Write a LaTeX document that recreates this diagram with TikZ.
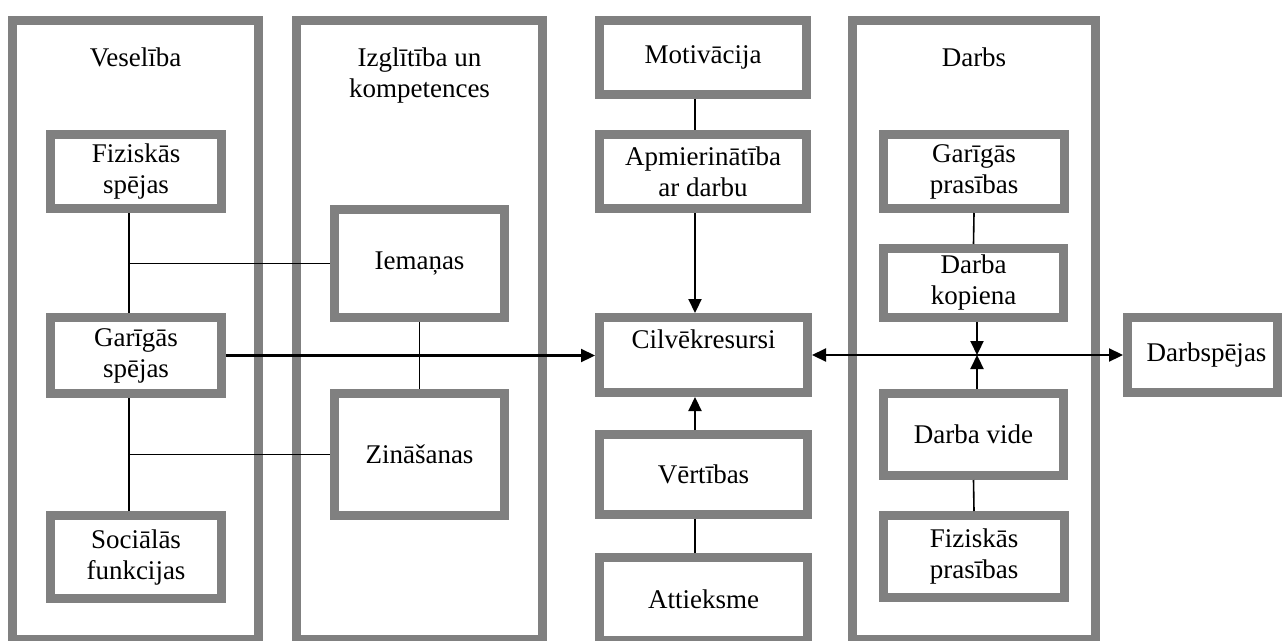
\documentclass[tikz,border=0pt]{standalone}
\usepackage{fontspec}
\setmainfont{Liberation Serif}
\usetikzlibrary{arrows.meta}
\definecolor{boxgray}{RGB}{128,128,128}
\begin{document}
\begin{tikzpicture}[x=1pt,y=-1pt,
  gbox/.style={draw=boxgray, line width=9pt, inner sep=0pt, align=center, font=\fontsize{27pt}{31pt}\selectfont},
  lbl/.style={inner sep=0pt, align=center, font=\fontsize{27pt}{31pt}\selectfont},
  conn/.style={line width=1.6pt},
  arr/.style={line width=2.2pt, -{Triangle[length=14pt,width=13pt]}},
  darr/.style={line width=2.2pt, {Triangle[length=14pt,width=13pt]}-{Triangle[length=14pt,width=13pt]}}]
\useasboundingbox[fill=white] (0,0) rectangle (1282,640);
% columns
\node[gbox, minimum width=246pt, minimum height=619pt] (colV) at (135.5,330) {};
\node[gbox, minimum width=246pt, minimum height=619pt] (colI) at (419.5,330) {};
\node[gbox, minimum width=243pt, minimum height=619pt] (colD) at (974,330) {};
\node[lbl, anchor=north] (tV) at (135.5,48) {Veselība};
\node[lbl, anchor=north] (tI) at (419.5,48) {Izglītība un\\kompetences};
\node[lbl, anchor=north] (tD) at (974,48) {Darbs};
% Veselība
\node[gbox, minimum width=171pt, minimum height=74pt] (fizS) at (136,171.5) {Fiziskās\\spējas};
\node[gbox, minimum width=171pt, minimum height=76pt] (garS) at (136,355.5) {Garīgās\\spējas};
\node[gbox, minimum width=171pt, minimum height=83pt] (socF) at (136,557) {Sociālās\\funkcijas};
% Izglītība
\node[gbox, minimum width=170pt, minimum height=108pt] (iem) at (419.5,263.5) {Iemaņas};
\node[gbox, minimum width=170pt, minimum height=122pt] (zin) at (419.5,454.5) {Zināšanas};
% middle
\node[gbox, minimum width=207pt, minimum height=74pt] (mot) at (703,57.5) {Motivācija};
\node[gbox, minimum width=207pt, minimum height=74pt] (apm) at (703,171.5) {Apmierinātība\\ar darbu};
\node[gbox, minimum width=208pt, minimum height=75pt] (cil) at (703.5,355) {Cilvēkresursi\\\mbox{}};
\node[gbox, minimum width=208pt, minimum height=80pt] (vert) at (703.5,474.5) {Vērtības};
\node[gbox, minimum width=208pt, minimum height=83pt] (att) at (703.5,599) {Attieksme};
% Darbs
\node[gbox, minimum width=181pt, minimum height=74pt] (garP) at (974,171.5) {Garīgās\\prasības};
\node[gbox, minimum width=180pt, minimum height=69pt] (kop) at (973.5,283) {Darba\\kopiena};
\node[gbox, minimum width=180pt, minimum height=82pt] (vide) at (973.5,434.5) {Darba vide};
\node[gbox, minimum width=181pt, minimum height=82pt] (fizP) at (974,556.5) {Fiziskās\\prasības};
% Darbspējas
\node[gbox, minimum width=150pt, minimum height=75pt] (dsp) at (1202.5,355) {\hspace*{8pt}Darbspējas};
% helper coordinates
\coordinate (vx) at (129,0);
\coordinate (mx) at (695,0);
\coordinate (dx) at (977,0);
% connectors
\draw[conn] (fizS.south -| vx) -- (garS.north -| vx);
\draw[conn] (garS.south -| vx) -- (socF.north -| vx);
\draw[conn] (iem.west -| vx) -- (iem.west);
\draw[conn] (zin.west -| vx) -- (zin.west);
\draw[conn] (iem.south) -- (zin.north);
\draw[arr] (garS.east) -- (garS.east -| cil.west);
\draw[conn] (mot.south -| mx) -- (apm.north -| mx);
\draw[arr] (apm.south -| mx) -- (cil.north -| mx);
\draw[arr] (vert.north -| mx) -- (cil.south -| mx);
\draw[conn] (att.north -| mx) -- (vert.south -| mx);
\draw[conn] (garP.south) -- (kop.north);
\draw[conn] (vide.south) -- (fizP.north);
\draw[darr] (cil.east) -- (dsp.west);
\draw[arr] (kop.south -| dx) -- (cil.east -| dx);
\draw[arr] (vide.north -| dx) -- (cil.east -| dx);
\end{tikzpicture}
\end{document}
